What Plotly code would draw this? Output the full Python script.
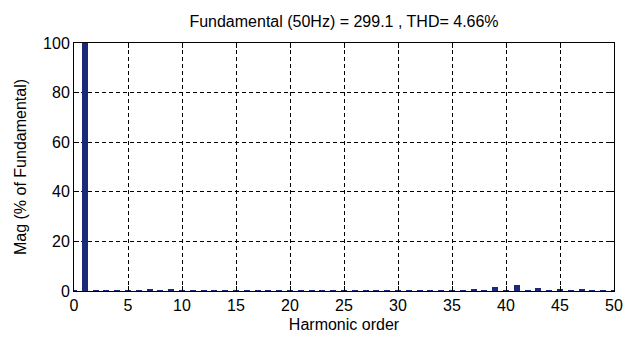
import plotly.graph_objects as go

harmonic_order = list(range(0, 51))
magnitude_pct = [
    0.4, 100.0, 0.3, 0.3, 0.3, 0.3, 0.3, 1.0, 0.3, 1.0,
    0.3, 0.3, 0.3, 0.3, 0.3, 0.3, 0.3, 0.3, 0.3, 0.3,
    0.3, 0.3, 0.3, 0.3, 0.3, 0.3, 0.3, 0.3, 0.3, 0.3,
    0.3, 0.3, 0.3, 0.3, 0.3, 0.3, 0.3, 1.0, 0.3, 1.6,
    0.3, 2.3, 0.3, 1.1, 0.3, 0.9, 0.3, 0.9, 0.3, 0.3,
    0.3,
]
title_text = "Fundamental (50Hz) = 299.1 , THD= 4.66%"
x_label = "Harmonic order"
y_label = "Mag (% of Fundamental)"
x_ticks = list(range(0, 51, 5))
y_ticks = list(range(0, 101, 20))

font_family = "Liberation Sans, Arial, sans-serif"

fig = go.Figure(
    go.Bar(
        x=harmonic_order,
        y=magnitude_pct,
        width=0.55,
        marker=dict(color="#1c297a", line=dict(width=0)),
    )
)

axis_common = dict(
    showline=True,
    linecolor="black",
    linewidth=1,
    mirror="allticks",
    ticks="inside",
    ticklen=5,
    tickcolor="black",
    showgrid=True,
    gridcolor="black",
    gridwidth=1,
    griddash="4px,3px",
    zeroline=False,
    automargin=False,
    tickfont=dict(family=font_family, size=16, color="black"),
)

fig.update_xaxes(
    **axis_common,
    range=[0, 50],
    tickvals=x_ticks,
    title=dict(text=x_label, font=dict(family=font_family, size=16, color="black"), standoff=5),
)
fig.update_yaxes(
    **axis_common,
    range=[0, 100],
    tickvals=y_ticks,
    title=dict(text=y_label, font=dict(family=font_family, size=16, color="black"), standoff=12),
)

fig.update_layout(
    width=624,
    height=345,
    margin=dict(l=74, r=10, t=43, b=54, autoexpand=False),
    paper_bgcolor="white",
    plot_bgcolor="white",
    showlegend=False,
    bargap=0,
    title=dict(
        text=title_text,
        x=(74 + 614) / 2 / 624,
        xanchor="center",
        y=1 - 21 / 345,
        yanchor="middle",
        font=dict(family=font_family, size=16, color="black"),
    ),
)

fig.write_html(
    "out.html",
    config={"displayModeBar": False},
    post_script="document.body.style.margin='0';document.body.style.overflow='hidden';",
)
